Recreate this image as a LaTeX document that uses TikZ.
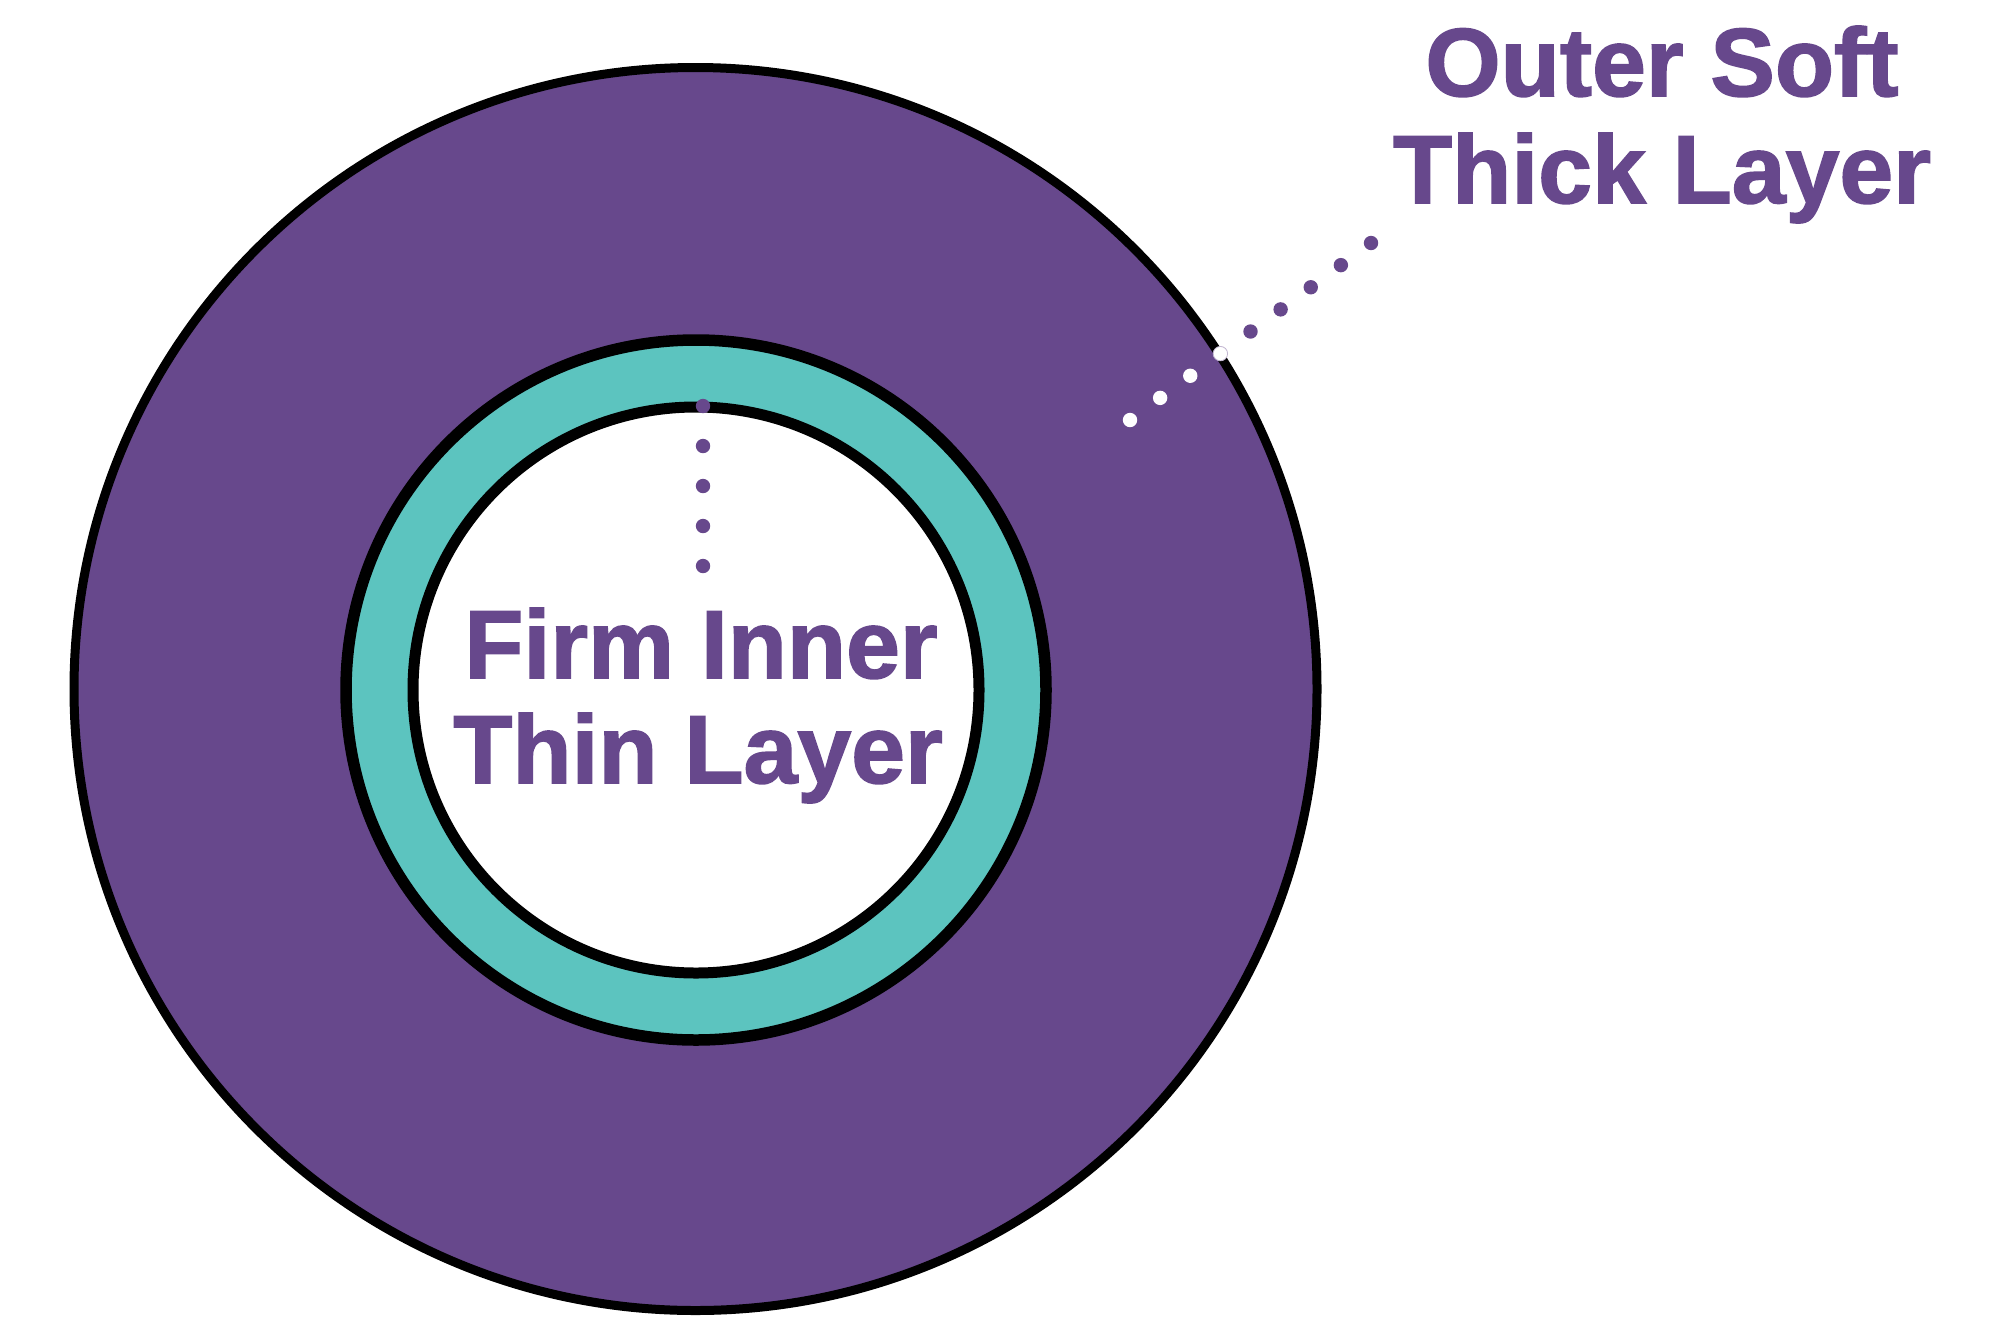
\documentclass[tikz,border=0pt]{standalone}
\usepackage{fontspec}
\setmainfont{Liberation Sans}
\newfontfamily\lblfont{Liberation Sans}[UprightFont=*-Bold,FakeBold=1.6]
\usetikzlibrary{calc}
\definecolor{lpurple}{RGB}{103,72,140}
\definecolor{lteal}{RGB}{92,196,191}
\begin{document}
\begin{tikzpicture}[x=0.5pt,y=-0.5pt,
  lbl/.style={text=lpurple,font=\lblfont\fontsize{48.4pt}{52.5pt}\selectfont,inner sep=0pt,anchor=base},
  pdot/.style={fill=lpurple,draw=none},
  wdot/.style={fill=white,draw=none},
  edot/.style={fill=white,draw=lpurple!40,line width=0.4pt}]
\useasboundingbox[fill=white] (0,0) rectangle (2012,1323);
% layers
\fill[lpurple,draw=black,line width=4.5pt] (695.5,689) circle[radius=310.75pt];
\fill[lteal,draw=black,line width=5.75pt] (696,690) circle[radius=175pt];
\fill[white,draw=black,line width=5.5pt] (696,690) circle[radius=141.5pt];
% labels
\node[lbl] (outerA) at (1662,96) {Outer Soft};
\node[lbl] (outerB) at (1662,203) {Thick Layer};
\node[lbl] (innerA) at (701,678) {Firm Inner};
\node[lbl] (innerB) at (698,783) {Thin Layer};
% leader for outer layer
\coordinate (o0) at (1371,243);
\coordinate (o8) at (1130,420);
\foreach \i in {0,...,4} \fill[pdot] ($(o0)!\i/8!(o8)$) circle[radius=3.6pt];
\filldraw[edot] ($(o0)!5/8!(o8)$) circle[radius=3.6pt];
\foreach \i in {6,7,8} \fill[wdot] ($(o0)!\i/8!(o8)$) circle[radius=3.6pt];
% leader for inner layer
\coordinate (i0) at (703,406);
\coordinate (i4) at (703,566);
\foreach \i in {0,...,4} \fill[pdot] ($(i0)!\i/4!(i4)$) circle[radius=3.6pt];
\end{tikzpicture}
\end{document}
